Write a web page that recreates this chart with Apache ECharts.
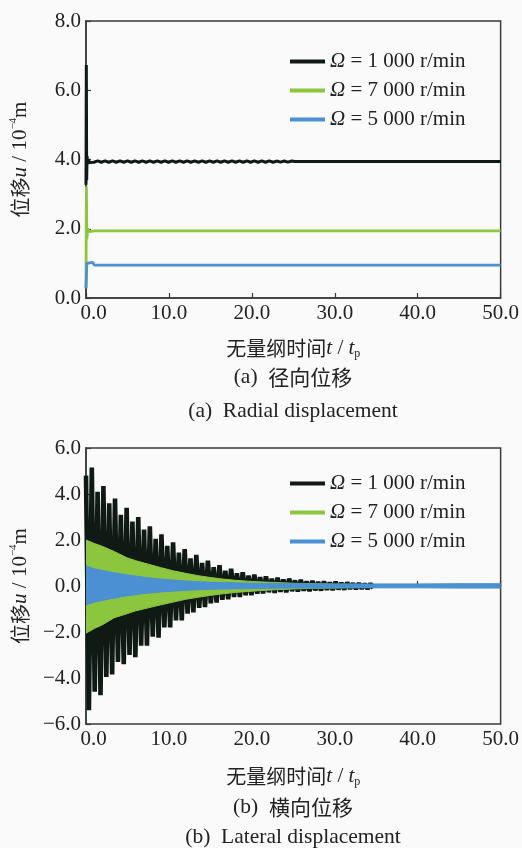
<!DOCTYPE html>
<html><head><meta charset="utf-8">
<script src="https://cdn.jsdelivr.net/npm/echarts/dist/echarts.min.js"></script>
<style>html,body{margin:0;padding:0;background:#fafafa}#c{width:522px;height:848px}</style>
</head><body><div id="c"></div>
<script>
// ---------- names / colours ----------
const seriesNames = ['Ω = 1 000 r/min', 'Ω = 7 000 r/min', 'Ω = 5 000 r/min'];
const colors = ['#0f1a15', '#8cc63f', '#4a90d2'];

// ---------- (a) radial displacement ----------
const radialBlackHead = [[0, 3.27], [0.04, 6.73], [0.08, 3.4], [0.13, 4.1], [0.2, 3.87], [0.3, 4.0], [0.4, 3.91]];
const radialBlackOscStart = 0.5, radialBlackOscStep = 0.45;
const radialBlackOsc = [3.96,3.92,3.96,3.92,3.96,3.92,3.96,3.92,3.96,3.92,3.96,3.92,3.96,3.92,3.96,3.92,3.96,3.92,3.96,3.92,
  3.96,3.92,3.96,3.92,3.96,3.92,3.96,3.92,3.96,3.92,3.96,3.92,3.96,3.92,3.96,3.92,3.96,3.92,3.96,3.92,
  3.96,3.92,3.96,3.92,3.96,3.92,3.96,3.92,3.96,3.92,3.955,3.925,3.955,3.925,3.955];
const radialBlackTail = [[25.2, 3.94], [50, 3.94]];
const radialGreen = [[0, 0.28], [0.05, 3.22], [0.1, 1.7], [0.2, 2.0], [0.4, 1.92], [1, 1.94], [50, 1.94]];
const radialBlue = [[0, 0.28], [0.1, 1.0], [0.3, 0.96], [0.8, 1.03], [1.0, 0.95], [50, 0.95]];

// ---------- (b) lateral displacement ----------
// black: upper peaks (t = 0, 0.7, 1.4 ...) and lower peaks (t = 0.35, 1.05, ...)
const blackPeakStep = 0.7;
const blackUp = [4.8,5.15,4.1,4.35,3.6,3.8,3.1,3.4,2.8,3.0,2.45,2.6,2.05,2.25,1.75,1.9,1.45,1.6,1.2,1.35,
  1.0,1.1,0.82,0.9,0.66,0.75,0.55,0.6,0.45,0.5,0.38,0.42,0.32,0.36,0.28,0.32,0.24,0.27,0.2,0.22,
  0.17,0.2,0.15,0.18,0.13,0.15,0.11,0.12,0.09,0.1];
const blackLo = [-5.4,-4.6,-4.75,-3.95,-3.85,-3.3,-3.4,-3.0,-3.1,-2.6,-2.6,-2.2,-2.25,-1.8,-1.8,-1.5,-1.5,-1.2,-1.15,-0.95,
  -0.92,-0.75,-0.72,-0.6,-0.58,-0.48,-0.48,-0.4,-0.4,-0.33,-0.32,-0.27,-0.3,-0.25,-0.27,-0.22,-0.24,-0.2,-0.22,-0.18,
  -0.19,-0.16,-0.17,-0.14,-0.15,-0.12,-0.13,-0.11,-0.12,-0.1];
// green / blue: envelopes of the dense oscillation
const greenT  = [0, 1, 2, 3.4, 5, 6, 7.5, 9, 10.5, 12, 13.5, 15, 16.5, 18, 19.5, 21, 23, 25, 27.5, 30, 32.5, 35];
const greenUp = [2.0,1.85,1.72,1.5,1.22,1.1,0.95,0.8,0.66,0.55,0.45,0.37,0.3,0.25,0.21,0.18,0.15,0.12,0.1,0.08,0.07,0.06];
const greenLo = [-2.05,-1.85,-1.68,-1.38,-1.2,-1.08,-0.95,-0.82,-0.7,-0.58,-0.49,-0.41,-0.34,-0.28,-0.24,-0.2,-0.16,-0.13,-0.1,-0.09,-0.07,-0.06];
const blueT  = [0, 1, 3, 5, 7, 9, 12, 15, 20, 25, 30, 35, 40, 45, 50];
const blueUp = [0.88,0.75,0.6,0.48,0.38,0.3,0.22,0.16,0.12,0.1,0.09,0.09,0.09,0.1,0.1];
const blueLo = [-0.82,-0.7,-0.55,-0.42,-0.33,-0.26,-0.19,-0.14,-0.11,-0.09,-0.08,-0.08,-0.08,-0.09,-0.09];

// ---------- build ----------
const SERIF = 'Liberation Serif', CJK = 'Noto Sans CJK SC';
const radialBlack = radialBlackHead
  .concat(radialBlackOsc.map((v, i) => [radialBlackOscStart + radialBlackOscStep * i, v]))
  .concat(radialBlackTail);
const lateralBlack = [];
for (let k = 0; k < blackUp.length; k++) {
  lateralBlack.push([k * blackPeakStep, blackUp[k]]);
  lateralBlack.push([k * blackPeakStep + blackPeakStep / 2, blackLo[k]]);
}
const zip = (t, v) => t.map((x, i) => [x, v[i]]);

const fmtY = v => (v < 0 ? '−' : '') + Math.abs(v).toFixed(1);
const fmtX = v => v === 0 ? '{z|0.0}' : v.toFixed(1);
const axisCol = '#3a3a3a';
const labelStyle = { fontFamily: SERIF, fontSize: 21, color: '#222' };
const nameRich = {
  c: { fontFamily: CJK, fontSize: 20, color: '#222', lineHeight: 24 },
  i: { fontFamily: SERIF, fontStyle: 'italic', fontSize: 21, color: '#222', lineHeight: 24 },
  s: { fontFamily: SERIF, fontSize: 21, color: '#222', lineHeight: 24 },
  p: { fontFamily: SERIF, fontSize: 11, color: '#222', verticalAlign: 'top', lineHeight: 24 },
  b: { fontFamily: SERIF, fontSize: 12, color: '#222', verticalAlign: 'bottom', lineHeight: 24 }
};
function xAx(grid, gap) {
  return {
    type: 'value', gridIndex: grid, min: 0, max: 50, interval: 10,
    axisLine: { lineStyle: { color: axisCol, width: 1.5 } },
    axisTick: { inside: true, length: 5, lineStyle: { color: axisCol, width: 1.2 } },
    splitLine: { show: false },
    axisLabel: Object.assign({ margin: 5, formatter: fmtX, rich: { z: Object.assign({ padding: [0, 0, 0, 15] }, labelStyle) } }, labelStyle),
    name: '{c|无量纲时间}{i|t}{s| / }{i|t}{b|p}', nameLocation: 'middle', nameGap: gap,
    nameTextStyle: { rich: nameRich }
  };
}
function yAx(grid, min, max) {
  return {
    type: 'value', gridIndex: grid, min: min, max: max, interval: 2,
    axisLine: { show: true, lineStyle: { color: axisCol, width: 1.5 } },
    axisTick: { show: true, inside: true, length: 5, lineStyle: { color: axisCol, width: 1.2 } },
    splitLine: { show: false },
    axisLabel: Object.assign({ margin: 5, formatter: fmtY }, labelStyle),
    name: '{c|位移}{i|u}{s| / 10}{p|−4}{s|m}', nameLocation: 'middle', nameRotate: 90, nameGap: 54,
    nameTextStyle: { rich: nameRich }
  };
}
function legend(top) {
  return {
    orient: 'vertical', left: 285, top: top, itemGap: 8, itemWidth: 35, itemHeight: 4, icon: 'rect',
    data: seriesNames,
    formatter: n => '{o|Ω}' + n.slice(1),
    textStyle: { fontFamily: SERIF, fontSize: 21, color: '#222', lineHeight: 21,
      rich: { o: { fontFamily: SERIF, fontStyle: 'italic', fontSize: 21, color: '#222' } } }
  };
}
function line(name, col, xi, data, w, z, extra) {
  return Object.assign({ type: 'line', name: name, xAxisIndex: xi, yAxisIndex: xi, data: data, color: col, z: z,
    showSymbol: false, symbol: 'none', lineStyle: { width: w, color: col, join: 'bevel' }, silent: true }, extra || {});
}
function band(name, col, data, z) {
  return line(name, col, 1, data, 1, z, { areaStyle: { color: col, opacity: 1 } });
}
function caption(y, parts) {
  return { type: 'text', x: 293, y: y, style: { text: parts, align: 'center', verticalAlign: 'middle',
    textAlign: 'center', textVerticalAlign: 'middle', fill: '#222',
    rich: { s: { fontFamily: SERIF, fontSize: 21.5, fill: '#222', color: '#222' }, c: { fontFamily: CJK, fontSize: 21, fill: '#222', color: '#222' } } } };
}

const chart = echarts.init(document.getElementById('c'), null, { renderer: 'canvas' });
chart.setOption({
  animation: false,
  backgroundColor: '#fafafa',
  grid: [
    { left: 85, top: 21, width: 416, height: 277, show: true, borderColor: axisCol, borderWidth: 1.5, backgroundColor: 'transparent' },
    { left: 85, top: 448, width: 416, height: 276, show: true, borderColor: axisCol, borderWidth: 1.5, backgroundColor: 'transparent' }
  ],
  xAxis: [xAx(0, 38), xAx(1, 40)],
  yAxis: [yAx(0, 0, 8), yAx(1, -6, 6)],
  legend: [legend(46), legend(468)],
  series: [
    line(seriesNames[0], colors[0], 0, radialBlack, 3, 2),
    line(seriesNames[1], colors[1], 0, radialGreen, 2.8, 3),
    line(seriesNames[2], colors[2], 0, radialBlue, 2.8, 4),
    line(seriesNames[0], colors[0], 1, lateralBlack, 4.6, 2),
    band(seriesNames[1], colors[1], zip(greenT, greenUp), 3),
    band(seriesNames[1], colors[1], zip(greenT, greenLo), 3),
    band(seriesNames[2], colors[2], zip(blueT, blueUp), 4),
    band(seriesNames[2], colors[2], zip(blueT, blueLo), 4)
  ],
  graphic: [
    caption(377, '{s|(a)  }{c|径向位移}'),
    caption(411, '{s|(a)  Radial displacement}'),
    caption(807, '{s|(b)  }{c|横向位移}'),
    caption(837, '{s|(b)  Lateral displacement}')
  ]
});
</script></body></html>
